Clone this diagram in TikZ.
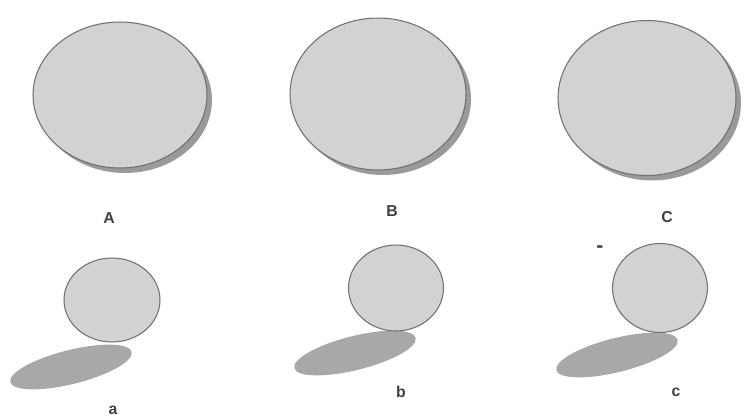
\documentclass[tikz,border=0pt]{standalone}
\usepackage{fontspec}
\setmainfont{Liberation Sans}
\usepackage{tikz}
\usetikzlibrary{shapes.geometric}
\definecolor{disc}{HTML}{D2D2D5}
\definecolor{rim}{HTML}{707072}
\definecolor{shade}{HTML}{9A9A9C}
\definecolor{cast}{HTML}{A8A8AA}

\tikzset{
  bigdisc/.style={ellipse, fill=disc, draw=rim, line width=0.6pt, inner sep=0pt},
  dropshade/.style={ellipse, fill=shade, draw=none, inner sep=0pt},
  smalldisc/.style={ellipse, fill=disc, draw=rim, line width=0.6pt, inner sep=0pt},
  castshadow/.style={ellipse, fill=cast, draw=none, inner sep=0pt},
  tag/.style={font=\small\bfseries, text=black!75}
}

\begin{document}
\begin{tikzpicture}[x=0.02cm, y=-0.02cm]
\useasboundingbox (0,0) rectangle (745,416);

% --- upper row: large discs with drop shadow ---
\node[dropshade, minimum width=3.48cm, minimum height=2.92cm] (shA) at (125,100) {};
\node[bigdisc, minimum width=3.48cm, minimum height=2.92cm] (discA) at (120,95) {};
\node[dropshade, minimum width=3.52cm, minimum height=3.04cm] (shB) at (383,99) {};
\node[bigdisc, minimum width=3.52cm, minimum height=3.04cm] (discB) at (378,94) {};
\node[dropshade, minimum width=3.56cm, minimum height=3.1cm] (shC) at (652,103) {};
\node[bigdisc, minimum width=3.56cm, minimum height=3.1cm] (discC) at (647,98) {};

\node[tag] (labA) at (109,218) {A};
\node[tag] (labB) at (392,211) {B};
\node[tag] (labC) at (667,217) {C};

% --- lower row: small discs with cast shadows ---
\node[castshadow, minimum width=2.5cm, minimum height=0.68cm, rotate=14] (castA) at (71,367) {};
\node[smalldisc, minimum width=1.92cm, minimum height=1.68cm] (discAs) at (112,300) {};
\node[castshadow, minimum width=2.5cm, minimum height=0.68cm, rotate=14] (castB) at (355,353) {};
\node[smalldisc, minimum width=1.9cm, minimum height=1.72cm] (discBs) at (396,288) {};
\node[castshadow, minimum width=2.5cm, minimum height=0.68cm, rotate=14] (castC) at (617,355) {};
\node[smalldisc, minimum width=1.9cm, minimum height=1.78cm] (discCs) at (660,288) {};

\node[tag] (laba) at (113,410) {a};
\node[tag] (labb) at (401,392) {b};
\node[tag] (labc) at (676,392) {c};
\node[tag, font=\large\bfseries] (dash) at (600,249) {-};

\end{tikzpicture}
\end{document}
